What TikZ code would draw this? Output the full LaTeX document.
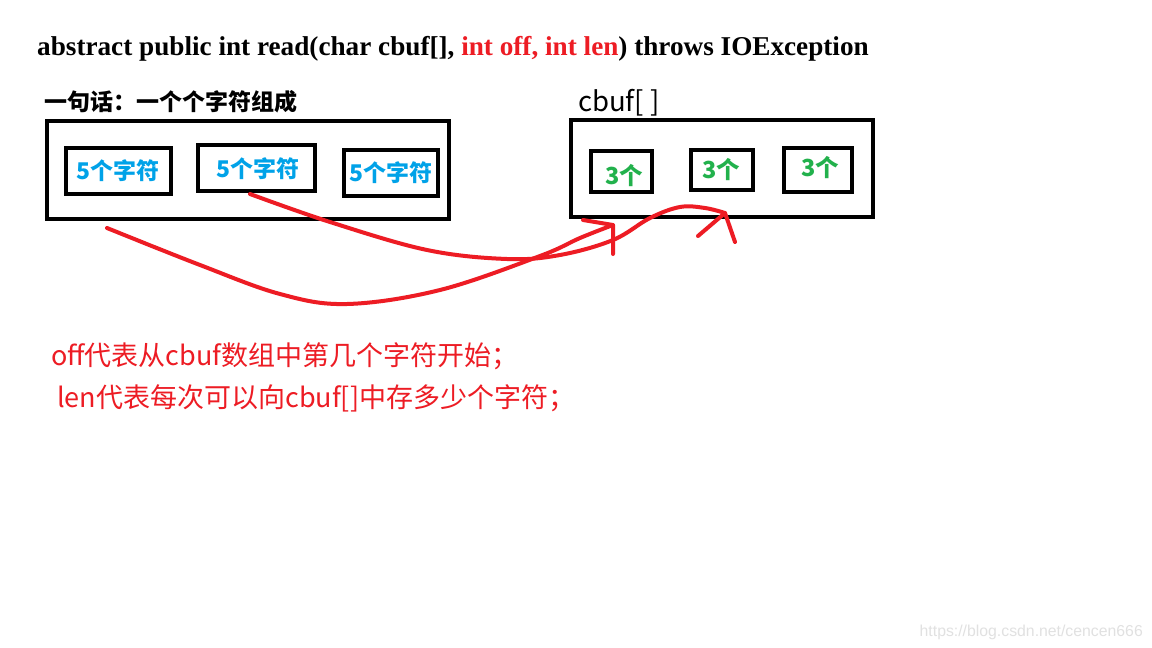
\documentclass[tikz,border=0pt]{standalone}
\usepackage{fontspec}
\setmainfont{Liberation Serif}
\newfontfamily\cjk{Noto Sans CJK SC}
\newfontfamily\wm{Liberation Sans}
\definecolor{pred}{RGB}{237,28,36}
\definecolor{pblue}{RGB}{0,162,232}
\definecolor{pgreen}{RGB}{34,177,76}
\definecolor{wmgray}{RGB}{225,225,225}
\begin{document}
\begin{tikzpicture}[x=1pt,y=-1pt,
  bigbox/.style={draw=black,line width=4.5pt,inner sep=0pt,rectangle},
  smallbox/.style={draw=black,line width=4pt,inner sep=0pt,rectangle},
  bluetxt/.style={font=\cjk\bfseries\fontsize{23}{26}\selectfont,text=pblue,inner sep=0pt},
  greentxt/.style={font=\cjk\bfseries\fontsize{23.5}{26}\selectfont,text=pgreen,inner sep=0pt},
  redtxt/.style={font=\cjk\fontsize{27}{32}\selectfont,text=pred,inner sep=0pt,anchor=base west},
  stroke/.style={draw=pred,line width=4pt,line cap=round,line join=round}]
\useasboundingbox[fill=white] (0,0) rectangle (1152,648);
% title
\node[anchor=base west,inner sep=0pt,font=\bfseries\fontsize{27.2}{32}\selectfont] (title) at (37,55)
  {abstract public int read(char cbuf[], \textcolor{pred}{int off, int len}) throws IOException};
% labels
\node[anchor=west,inner sep=0pt,font=\cjk\bfseries\fontsize{23}{27}\selectfont] (lbl) at (44,102) {一句话：一个个字符组成};
\node[anchor=west,inner sep=0pt,font=\cjk\fontsize{27.5}{32}\selectfont] (cbuflbl) at (578,103) {cbuf[ ]};
% left big box
\node[bigbox,minimum width=402pt,minimum height=98pt] (lbox) at (248,170) {};
\node[smallbox,minimum width=105pt,minimum height=46pt] (b1) at (118.5,171) {};
\node[smallbox,minimum width=117pt,minimum height=46pt] (b2) at (256.5,168) {};
\node[smallbox,minimum width=94pt,minimum height=46pt] (b3) at (390.5,172.5) {};
\node[bluetxt] (t1) at (118,171) {5个字符};
\node[bluetxt] (t2) at (258,169) {5个字符};
\node[bluetxt] (t3) at (391,173) {5个字符};
% right big box
\node[bigbox,minimum width=302pt,minimum height=97pt] (rbox) at (722,168.5) {};
\node[smallbox,minimum width=61pt,minimum height=41pt] (c1) at (621,171) {};
\node[smallbox,minimum width=62pt,minimum height=40pt] (c2) at (721.5,169.5) {};
\node[smallbox,minimum width=68pt,minimum height=44pt] (c3) at (817.5,169.5) {};
\node[greentxt] (g1) at (624,176) {3个};
\node[greentxt] (g2) at (721,170) {3个};
\node[greentxt] (g3) at (820,168) {3个};
% curves
\coordinate (s1) at (107,228);
\coordinate (e1) at (613,225);
\coordinate (s2) at (250,194);
\coordinate (e2) at (725,213);
\draw[stroke] plot[smooth,tension=0.6] coordinates {(s1) (200,265) (280,294) (347,304) (440,290) (540,256) (580,238) (e1)};
\draw[stroke] (583,220) -- (e1) -- (613,254);
\draw[stroke] plot[smooth,tension=0.6] coordinates {(s2) (330,222) (427,250) (507,259) (560,255) (613,240) (650,218) (680,207) (705,208) (e2)};
\draw[stroke] (698,236) -- (e2) -- (735,242);
% red explanation
\node[redtxt] (r1) at (51,365) {off代表从cbuf数组中第几个字符开始；};
\node[redtxt] (r2) at (57,407) {len代表每次可以向cbuf[]中存多少个字符；};
% watermark
\node[anchor=base east,inner sep=0pt,font=\wm\fontsize{15.8}{18}\selectfont,text=wmgray] (wmk) at (1143,636) {https://blog.csdn.net/cencen666};
\end{tikzpicture}
\end{document}
